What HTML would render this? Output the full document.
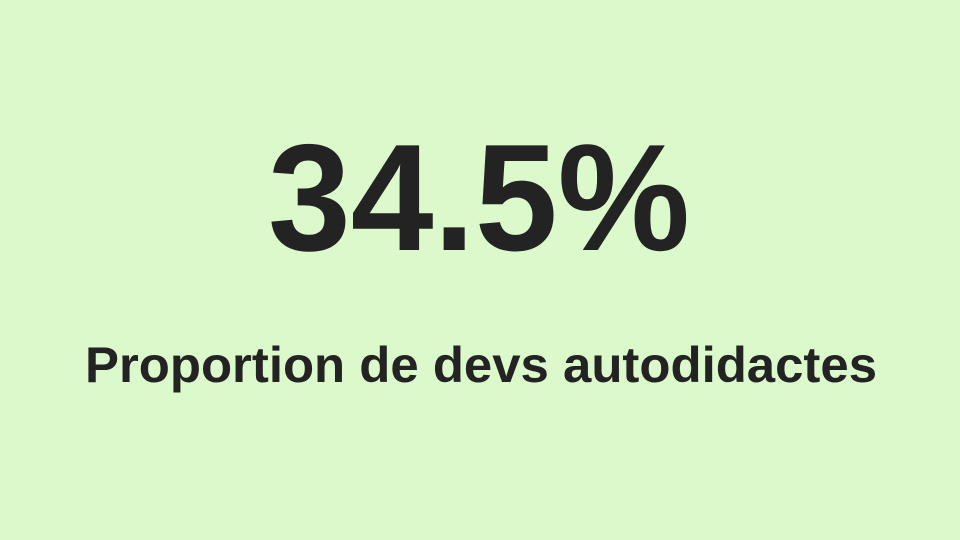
<!DOCTYPE html>
<html>
<head>
<meta charset="utf-8">
<style>
  html, body { margin:0; padding:0; }
  body { width:960px; height:540px; background:#dcf9cc; overflow:hidden; }
  svg { display:block; }
</style>
</head>
<body>
<svg width="960" height="540" viewBox="0 0 960 540">
  <rect x="0" y="0" width="960" height="540" fill="#dcf9cc"/>
  <text x="479" y="250" text-anchor="middle" font-family="'Liberation Sans', sans-serif" font-weight="bold" font-size="152" fill="#232323" textLength="422" lengthAdjust="spacingAndGlyphs">34.5%</text>
  <text x="481" y="382" text-anchor="middle" font-family="'Liberation Sans', sans-serif" font-weight="bold" font-size="50" fill="#232323" textLength="792" lengthAdjust="spacingAndGlyphs">Proportion de devs autodidactes</text>
</svg>
</body>
</html>
